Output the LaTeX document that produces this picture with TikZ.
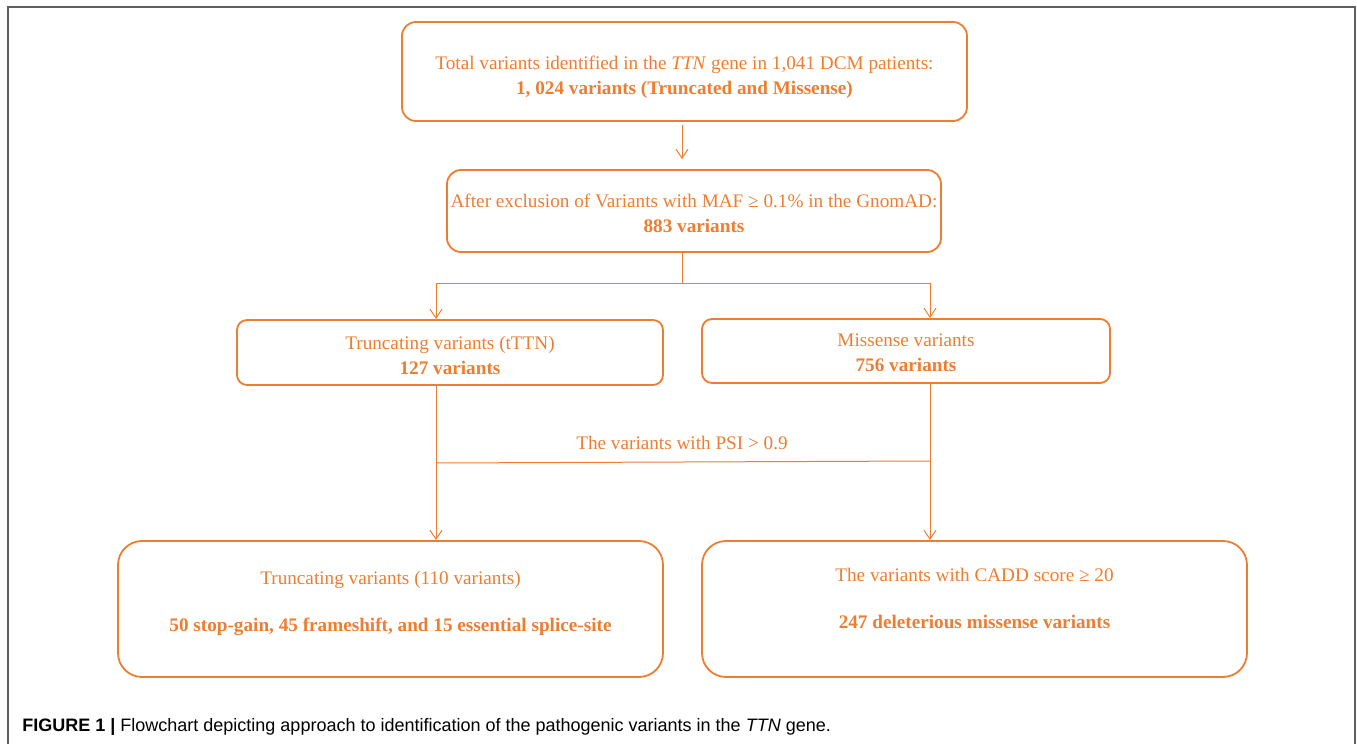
\documentclass[tikz,border=0pt]{standalone}
\usepackage{fontspec}
\setmainfont{Liberation Serif}
\newfontfamily\capfont{Liberation Sans}
\usetikzlibrary{arrows.meta}
\definecolor{flow}{RGB}{237,125,49}
\definecolor{frame}{RGB}{95,95,95}
\tikzset{
  box/.style={draw=flow, line width=0.9pt, rounded corners=7pt, inner sep=0pt},
  txt/.style={align=center, text=flow, inner sep=0pt, font=\fontsize{9.6}{12.5}\selectfont},
  link/.style={draw=flow, line width=0.5pt},
  arr/.style={link, -{Straight Barb[length=4.5pt, width=6pt]}}
}
\begin{document}
\begin{tikzpicture}[x=0.5pt, y=-0.5pt]
\useasboundingbox (0,0) rectangle (1357,744);
% outer frame
\draw[frame, line width=1pt] (7.5,744) -- (7.5,6.5) -- (1354.5,6.5) -- (1354.5,744);
% boxes
\node[box, minimum width=282.5pt, minimum height=49.5pt] (total) at (684.5,71.5) {};
\node[box, minimum width=247pt, minimum height=41pt] (maf) at (694,211) {};
\node[box, rounded corners=5pt, minimum width=213pt, minimum height=32.5pt] (trunc) at (450,352.5) {};
\node[box, rounded corners=5pt, minimum width=204pt, minimum height=32pt] (miss) at (906,351) {};
\node[box, rounded corners=12pt, minimum width=272.5pt, minimum height=68pt] (truncsel) at (390.5,609) {};
\node[box, rounded corners=12pt, minimum width=272.5pt, minimum height=68pt] (misssel) at (974.5,609) {};
% box texts
\node[txt] (totaltext) at ([yshift=-3pt]total.center)
  {Total variants identified in the \textit{TTN} gene in 1,041 DCM patients:\\
   \textbf{1, 024 variants (Truncated and Missense)}};
\node[txt] (maftext) at ([yshift=-1pt]maf.center)
  {After exclusion of Variants with MAF ≥ 0.1\% in the GnomAD:\\
   \textbf{883 variants}};
\node[txt] (trunctext) at ([yshift=-1.5pt]trunc.center)
  {Truncating variants (tTTN)\\ \textbf{127 variants}};
\node[txt] (misstext) at ([yshift=-1pt]miss.center)
  {Missense variants\\ \textbf{756 variants}};
\node[txt] (truncseltext) at ([yshift=3pt]truncsel.center)
  {Truncating variants (110 variants)\\[11pt]
   \textbf{50 stop-gain, 45 frameshift, and 15 essential splice-site}};
\node[txt] (missseltext) at ([yshift=5.2pt]misssel.center)
  {The variants with CADD score ≥ 20\\[11pt]
   \textbf{247 deleterious missense variants}};
% connectors
\path (682,283) coordinate (fork) (436,283) coordinate (tl) (930,283) coordinate (tr);
\draw[arr, shorten <=1.5pt, shorten >=5pt] (total.south -| fork) -- (maf.north -| fork);
\draw[link] (maf.south -| fork) -- (fork);
\draw[link] (tl) -- (tr);
\draw[arr] (tl) -- (tl |- trunc.north);
\draw[arr] (tr) -- (tr |- miss.north);
\draw[arr] (trunc.south -| tl) -- (tl |- truncsel.north);
\draw[arr] (miss.south -| tr) -- (tr |- misssel.north);
\draw[link] (436,463) coordinate (pl) -- (930,461) coordinate (pr);
\node[txt] (psi) at (682,443) {The variants with PSI > 0.9};
% caption
\node[anchor=base west, inner sep=0pt, font=\capfont\fontsize{9}{11}\selectfont] (cap) at (22,731)
  {\textbf{FIGURE 1 |} Flowchart depicting approach to identification of the pathogenic variants in the \textit{TTN} gene.};
\end{tikzpicture}
\end{document}
